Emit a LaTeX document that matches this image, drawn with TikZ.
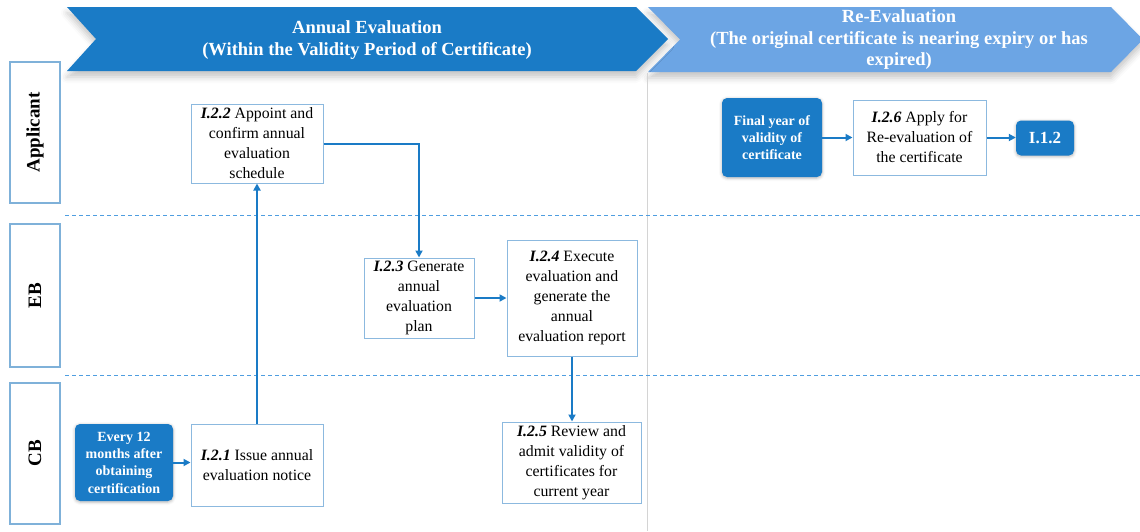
\documentclass[tikz,border=0pt]{standalone}
\usepackage{fontspec}
\setmainfont{Liberation Serif}
\usetikzlibrary{arrows.meta,shadows.blur}

\definecolor{hdrdark}{HTML}{1A7BC6}
\definecolor{hdrlight}{HTML}{6CA5E4}
\definecolor{boxline}{HTML}{8CB9DF}
\definecolor{laneline}{HTML}{7FB1D9}
\definecolor{flow}{HTML}{1A7BC6}
\definecolor{divider}{HTML}{D4D4D4}
\definecolor{lanedash}{HTML}{4F9EE0}

\begin{document}
\begin{tikzpicture}[x=1pt,y=-1pt,
  stepbox/.style={draw=boxline, line width=1pt, fill=white, align=center,
    font=\fontsize{15.8}{20}\selectfont, inner sep=1pt},
  startbox/.style={fill=hdrdark, rounded corners=5pt, text=white, align=center,
    font=\bfseries\fontsize{14}{17.3}\selectfont, inner sep=1pt,
    blur shadow={shadow xshift=0pt, shadow yshift=-1pt, shadow opacity=30, shadow blur radius=3pt}},
  lanebox/.style={draw=laneline, line width=2pt, rotate=90, minimum height=50pt,
    font=\bfseries\fontsize{19}{22}\selectfont},
  flowarrow/.style={draw=flow, line width=2pt, -{Triangle[length=7pt,width=7pt]}},
  hdrshape/.style={draw=none, blur shadow={shadow xshift=0pt, shadow yshift=-6pt,
    shadow opacity=22, shadow blur radius=6pt}},
  hdrtext/.style={text=white, align=center, font=\bfseries\fontsize{18.5}{21.5}\selectfont},
  lanesep/.style={draw=lanedash, line width=1pt, dash pattern=on 4pt off 3pt}
]
\useasboundingbox (0,0) rectangle (1140,531);

% phase banners
\fill[hdrlight, hdrshape] (648,7) -- (1111,7) -- (1143,39.5) -- (1111,72) -- (648,72) -- (680,39.5) -- cycle;
\fill[hdrdark, hdrshape] (67,7) -- (636,7) -- (668,39) -- (636,71) -- (67,71) -- (96,39) -- cycle;
\node[hdrtext] (hA) at (367,40) {Annual Evaluation\\(Within the Validity Period of Certificate)};
\node[hdrtext] (hB) at (899,40) {Re-Evaluation\\(The original certificate is nearing expiry or has\\expired)};

% phase divider and lane separators
\draw[divider, line width=0.8pt] (647,73) -- (647,531);
\draw[lanesep] (65,215) -- (1140,215);
\draw[lanesep] (65,375) -- (1140,375);

% lanes
\node[lanebox, minimum width=141pt] (lApp) at (35,132.5) {Applicant};
\node[lanebox, minimum width=143pt] (lEB) at (35,295.5) {EB};
\node[lanebox, minimum width=141pt] (lCB) at (35,453.5) {CB};

% annual evaluation steps
\node[startbox, minimum width=98pt, minimum height=77pt] (every) at (124,462.5)
  {Every 12\\months after\\obtaining\\certification};
\node[stepbox, minimum width=132pt, minimum height=82pt] (i21) at (257,465)
  {\textbf{\textit{I.2.1}} Issue annual\\evaluation notice};
\node[stepbox, minimum width=132pt, minimum height=79pt] (i22) at (257,143.5)
  {\textbf{\textit{I.2.2}} Appoint and\\confirm annual\\evaluation\\schedule};
\node[stepbox, minimum width=110pt, minimum height=80pt] (i23) at (419,298)
  {\textbf{\textit{I.2.3}} Generate\\annual\\evaluation\\plan};
\node[stepbox, minimum width=130pt, minimum height=116pt] (i24) at (572,298)
  {\textbf{\textit{I.2.4}} Execute\\evaluation and\\generate the\\annual\\evaluation report};
\node[stepbox, minimum width=139pt, minimum height=81pt] (i25) at (571.5,462.5)
  {\textbf{\textit{I.2.5}} Review and\\admit validity of\\certificates for\\current year};

% re-evaluation steps
\node[startbox, minimum width=100pt, minimum height=79pt] (final) at (772,137.5)
  {Final year of\\validity of\\certificate};
\node[stepbox, minimum width=133pt, minimum height=75pt] (i26) at (919.5,137.5)
  {\textbf{\textit{I.2.6}} Apply for\\Re-evaluation of\\the certificate};
\node[startbox, minimum width=58pt, minimum height=35pt, font=\bfseries\fontsize{17}{20}\selectfont] (i12) at (1045,138)
  {I.1.2};

% flow
\draw[flowarrow] (every.east) -- (every.east -| i21.west);
\draw[flowarrow] (i21.north) -- (i22.south);
\draw[flowarrow] (i22.east) -| (i23.north);
\draw[flowarrow] (i23.east) -- (i24.west);
\draw[flowarrow] (i24.south) -- (i24.south |- i25.north);
\draw[flowarrow] (final.east) -- (i26.west);
\draw[flowarrow] (i26.east) -- (i26.east -| i12.west);
\end{tikzpicture}
\end{document}
